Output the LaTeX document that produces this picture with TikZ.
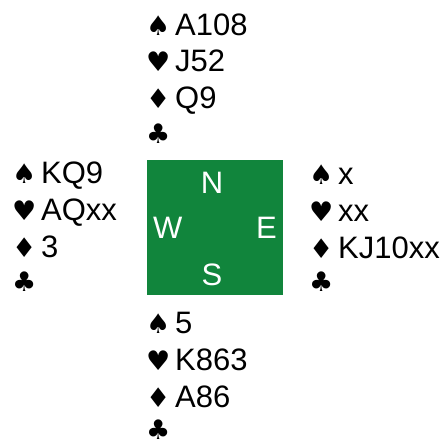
\documentclass[tikz,border=0pt]{standalone}
\usepackage{fontspec}
\setmainfont{Liberation Sans}
\newfontfamily\suitfont{DejaVu Sans}
\definecolor{tablegreen}{RGB}{17,133,60}
\newcommand{\suitsym}[1]{\makebox[29pt][l]{\suitfont\fontsize{27pt}{27pt}\selectfont #1}}
\tikzset{
  hand/.style={anchor=base west, inner sep=0pt, font=\fontsize{31pt}{31pt}\selectfont},
  seat/.style={inner sep=0pt, text=white, font=\fontsize{31pt}{31pt}\selectfont},
}
\begin{document}
\begin{tikzpicture}[x=1pt,y=-1pt]
\useasboundingbox (0,0) rectangle (444,445);
% North
\node[hand] (n1) at (146,35) {\suitsym{♠}A108};
\node[hand] (n2) at (146,71.5) {\suitsym{♥}J52};
\node[hand] (n3) at (146,108) {\suitsym{♦}Q9};
\node[hand] (n4) at (146,143) {\suitsym{♣}};
% West
\node[hand] (w1) at (12,183) {\suitsym{♠}KQ9};
\node[hand] (w2) at (12,220) {\suitsym{♥}AQxx};
\node[hand] (w3) at (12,257) {\suitsym{♦}3};
\node[hand] (w4) at (12,291) {\suitsym{♣}};
% East
\node[hand] (e1) at (309,184) {\suitsym{♠}x};
\node[hand] (e2) at (309,221) {\suitsym{♥}xx};
\node[hand] (e3) at (309,258) {\suitsym{♦}KJ10xx};
\node[hand] (e4) at (309,291) {\suitsym{♣}};
% South
\node[hand] (s1) at (146,333) {\suitsym{♠}5};
\node[hand] (s2) at (146,370) {\suitsym{♥}K863};
\node[hand] (s3) at (146,407) {\suitsym{♦}A86};
\node[hand] (s4) at (146,439) {\suitsym{♣}};
% Table
\fill[tablegreen] (147,160) rectangle (283,295);
\node[seat, anchor=base] (N) at (212,193) {N};
\node[seat, anchor=base west] (W) at (153,238) {W};
\node[seat, anchor=base east] (E) at (277,238) {E};
\node[seat, anchor=base] (S) at (212,285) {S};
\end{tikzpicture}
\end{document}
